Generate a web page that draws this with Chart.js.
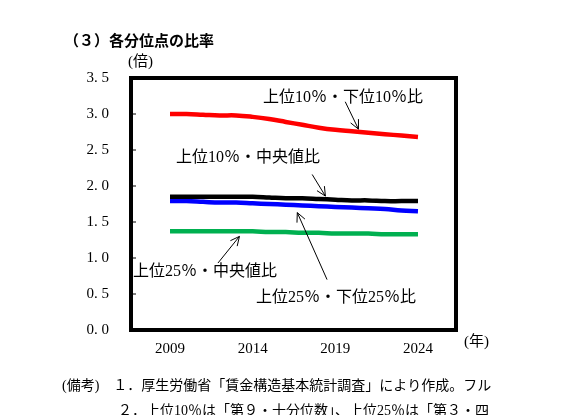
<!DOCTYPE html>
<html>
<head>
<meta charset="utf-8">
<script src="https://cdn.jsdelivr.net/npm/chart.js@4/dist/chart.umd.min.js"></script>
<style>
  body { margin: 0; background: #fff; }
  #wrap { width: 571px; height: 415px; }
</style>
</head>
<body>
<div id="wrap"><canvas id="c"></canvas></div>
<script>
// Years and ratio series
const years = [2009, 2010, 2011, 2012, 2013, 2014, 2015, 2016, 2017, 2018, 2019, 2020, 2021, 2022, 2023, 2024];
const tickYears = [2009, 2014, 2019, 2024];
const top10Bottom10 = [3.00, 3.00, 2.99, 2.98, 2.98, 2.96, 2.93, 2.89, 2.85, 2.81, 2.78, 2.76, 2.74, 2.72, 2.70, 2.68];
const top10Median = [1.85, 1.85, 1.85, 1.85, 1.85, 1.85, 1.84, 1.83, 1.83, 1.82, 1.81, 1.80, 1.80, 1.79, 1.79, 1.79];
const top25Bottom25 = [1.79, 1.79, 1.78, 1.77, 1.77, 1.76, 1.75, 1.74, 1.73, 1.72, 1.71, 1.70, 1.69, 1.68, 1.66, 1.65];
const top25Median = [1.37, 1.37, 1.37, 1.37, 1.37, 1.37, 1.36, 1.36, 1.35, 1.35, 1.34, 1.34, 1.34, 1.33, 1.33, 1.33];

const FONT = '"Liberation Serif", "Noto Sans CJK JP", serif';

function pts(vals) {
    return vals.map((v, i) => ({ x: years[i], y: v }));
}

// Labels with arrows: [text, textX, textY, fromX(year), fromY, toX(year), toY]
const labels = [
    ['上位10％・下位10％比', 263, 98, 2019.6, 3.17, 2020.4, 2.79],
    ['上位10％・中央値比', 176, 158, 2017.6, 2.16, 2018.4, 1.86],
    ['上位25％・下位25％比', 256, 298, 2018.5, 0.70, 2016.7, 1.63],
    ['上位25％・中央値比', 133, 272, 2011.9, 0.93, 2013.2, 1.30]
];

const overlay = {
    id: 'overlay',
    afterDraw(chart) {
        const ctx = chart.ctx;
        const xs = chart.scales.x, ys = chart.scales.y;
        const a = chart.chartArea;
        ctx.save();
        // frame
        ctx.strokeStyle = '#000';
        ctx.lineWidth = 4;
        ctx.strokeRect(a.left, a.top, a.right - a.left, a.bottom - a.top);
        // small y ticks inside frame
        ctx.lineWidth = 1;
        for (let v = 0.5; v < 3.5; v += 0.5) {
            const y = ys.getPixelForValue(v);
            ctx.beginPath(); ctx.moveTo(a.left, y); ctx.lineTo(a.left + 5, y); ctx.stroke();
        }
        ctx.fillStyle = '#000';
        ctx.textBaseline = 'middle';
        ctx.font = 'bold 15px ' + FONT;
        ctx.fillText('（３）各分位点の比率', 64, 42);
        ctx.font = '15px ' + FONT;
        ctx.fillText('(倍)', 128, 62);
        ctx.fillText('(年)', 464, 342);
        ctx.font = '14px ' + FONT;
        ctx.fillText('(備考)　１．厚生労働省「賃金構造基本統計調査」により作成。フル', 62, 386);
        ctx.fillText('　　　　２．上位10％は「第９・十分位数」、上位25％は「第３・四', 62, 411);
        // series labels and arrows
        ctx.font = '16px ' + FONT;
        labels.forEach(l => {
            ctx.fillText(l[0], l[1], l[2]);
            const x1 = xs.getPixelForValue(l[3]), y1 = ys.getPixelForValue(l[4]);
            const x2 = xs.getPixelForValue(l[5]), y2 = ys.getPixelForValue(l[6]);
            ctx.beginPath(); ctx.moveTo(x1, y1); ctx.lineTo(x2, y2); ctx.stroke();
            const ang = Math.atan2(y2 - y1, x2 - x1);
            ctx.beginPath();
            ctx.moveTo(x2 - 10 * Math.cos(ang - 0.45), y2 - 10 * Math.sin(ang - 0.45));
            ctx.lineTo(x2, y2);
            ctx.lineTo(x2 - 10 * Math.cos(ang + 0.45), y2 - 10 * Math.sin(ang + 0.45));
            ctx.stroke();
        });
        ctx.restore();
    }
};

function series(vals, color) {
    return {
        data: pts(vals),
        borderColor: color,
        borderWidth: 4.5,
        pointRadius: 0,
        tension: 0.4,
        fill: false
    };
}

new Chart(document.getElementById('c'), {
    type: 'line',
    data: {
        datasets: [
            series(top10Bottom10, '#ff0000'),
            series(top10Median, '#000000'),
            series(top25Bottom25, '#0000ff'),
            series(top25Median, '#00b050')
        ]
    },
    options: {
        responsive: true,
        maintainAspectRatio: false,
        animation: false,
        layout: { padding: { left: 60, right: 115, top: 78, bottom: 0 } },
        plugins: { legend: { display: false }, tooltip: { enabled: false } },
        scales: {
            x: {
                type: 'linear',
                min: 2006.64,
                max: 2026.3,
                afterBuildTicks: s => { s.ticks = tickYears.map(v => ({ value: v })); },
                afterFit: s => { s.height = 85; },
                grid: { display: false },
                border: { display: false },
                ticks: {
                    color: '#000',
                    font: { family: FONT, size: 15 },
                    padding: 2,
                    callback: v => String(v)
                }
            },
            y: {
                min: 0,
                max: 3.5,
                afterFit: s => { s.width = 71; },
                grid: { display: false },
                border: { display: false },
                ticks: {
                    stepSize: 0.5,
                    color: '#000',
                    font: { family: FONT, size: 15 },
                    padding: 14,
                    callback: v => v.toFixed(1).split('').join(' ').replace(' . ', '. ')
                }
            }
        }
    },
    plugins: [overlay]
});
</script>
</body>
</html>
